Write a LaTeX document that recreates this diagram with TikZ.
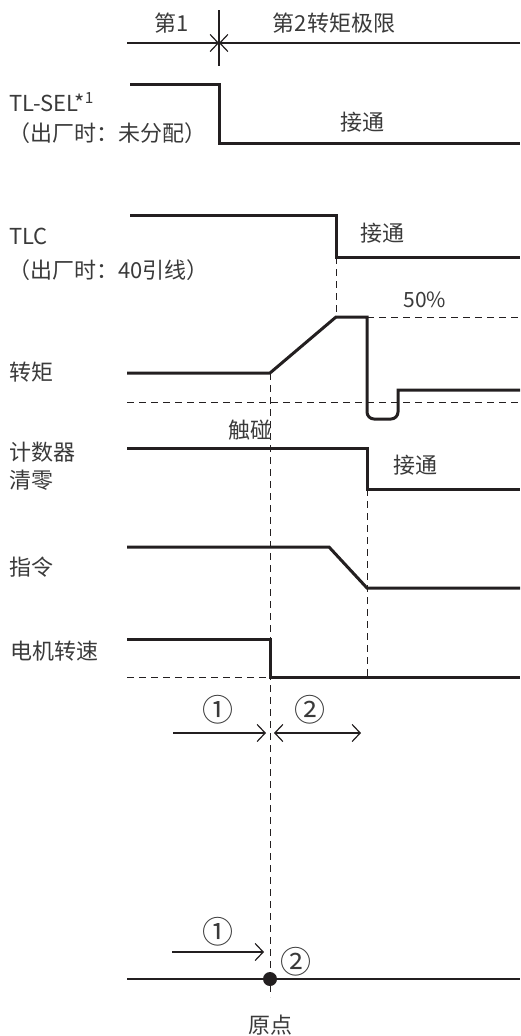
\documentclass[tikz,border=0pt]{standalone}
\usepackage{fontspec}
\setmainfont{Noto Sans CJK SC}
\usetikzlibrary{arrows.meta}
\definecolor{cInk}{HTML}{231F20}
\definecolor{cText}{HTML}{3A3A3A}

\begin{document}
\begin{tikzpicture}[x=1pt, y=-1pt, font=\fontsize{22pt}{26pt}\selectfont,
    sig/.style={cInk, line width=3pt},
    guide/.style={cInk, line width=1pt, dash pattern=on 7pt off 5pt},
    thin/.style={cInk, line width=1.2pt},
    barb/.style={-{Straight Barb[length=8pt,width=17pt]}},
    lbl/.style={text=cText, anchor=west, inner sep=0pt},
    txt/.style={text=cText, inner sep=0pt},
    circ/.style={txt, font=\fontsize{31pt}{34pt}\selectfont}]
    \useasboundingbox (0,0) rectangle (520,1036);

    % --- torque limit selection (top) -------------------------------
    \draw[thin] (219,10) -- (219,66);
    \draw[thin,barb] (127,43) -- (219,43);
    \draw[thin,barb] (520,43) -- (219,43);
    \node[txt] (first)  at (172,23) {第1};
    \node[txt] (second) at (334,23) {第2转矩极限};

    % --- signal traces ----------------------------------------------
    \draw[sig] (130,84) -- (219,84) -- (219,143) -- (520,143);          % TL-SEL
    \draw[sig] (130,215) -- (336,215) -- (336,257) -- (520,257);        % TLC
    \draw[sig] (127,373) -- (270,373) -- (336,317) -- (367,317) -- (367,400)
      {[rounded corners=7pt] -- (367,419) -- (398,419) -- (398,400)}
      -- (398,390) -- (520,390);                                        % torque
    \draw[sig] (127,448) -- (367,448) -- (367,489) -- (520,489);        % counter clear
    \draw[sig] (127,547) -- (329,547) -- (367,588) -- (520,588);        % command
    \draw[sig] (127,639) -- (270,639) -- (270,677) -- (520,677);        % motor speed

    % --- guides ------------------------------------------------------
    \draw[guide] (336,257) -- (336,317);
    \draw[guide] (367,317) -- (520,317);
    \draw[guide] (127,402) -- (520,402);
    \draw[guide] (367,489) -- (367,677);
    \draw[guide] (127,677) -- (270,677);
    \draw[guide] (270,373) -- (270,997);

    % --- row labels --------------------------------------------------
    \node[lbl] (tlsel)  at (9,102) {TL-SEL*\textsuperscript{1}};
    \node[lbl] (tlseld) at (8,133) {（出厂时：未分配）};
    \node[lbl] (tlc)    at (9,236) {TLC};
    \node[lbl] (tlcd)   at (8,270) {（出厂时：40引线）};
    \node[lbl] (torque) at (9,372) {转矩};
    \node[lbl] (clear)  at (9,452) {计数器};
    \node[lbl] (clearb) at (9,480) {清零};
    \node[lbl] (cmd)    at (9,567) {指令};
    \node[lbl] (speed)  at (10,651) {电机转速};

    % --- annotations -------------------------------------------------
    \node[txt] (on1) at (362,122) {接通};
    \node[txt] (on2) at (382,233) {接通};
    \node[txt] (on3) at (415,465) {接通};
    \node[txt,font=\fontsize{21pt}{24pt}\selectfont] (half) at (425,300) {50\%};
    \node[txt] (touch) at (250,430) {触碰};

    % --- phases ------------------------------------------------------
    \coordinate (p1a) at (173,733);
    \coordinate (p1b) at (266,733);
    \coordinate (p2a) at (274,733);
    \coordinate (p2b) at (361,733);
    \draw[thin,barb] (p1a) -- (p1b);
    \draw[thin,{Straight Barb[length=8pt,width=17pt]}-{Straight Barb[length=8pt,width=17pt]}] (p2a) -- (p2b);
    \node[circ] (ph1) at (218,710) {①};
    \node[circ] (ph2) at (310,710) {②};

    % --- origin ------------------------------------------------------
    \coordinate (org) at (270,979);
    \coordinate (oa) at (172,952);
    \coordinate (ob) at (264,952);
    \draw[thin] (127,979) -- (520,979);
    \draw[thin,barb] (oa) -- (ob);
    \fill[cInk] (org) circle (7);
    \node[circ] (oph1) at (218,932) {①};
    \node[circ] (oph2) at (296,962) {②};
    \node[txt] (origin) at (270,1025) {原点};
\end{tikzpicture}
\end{document}
